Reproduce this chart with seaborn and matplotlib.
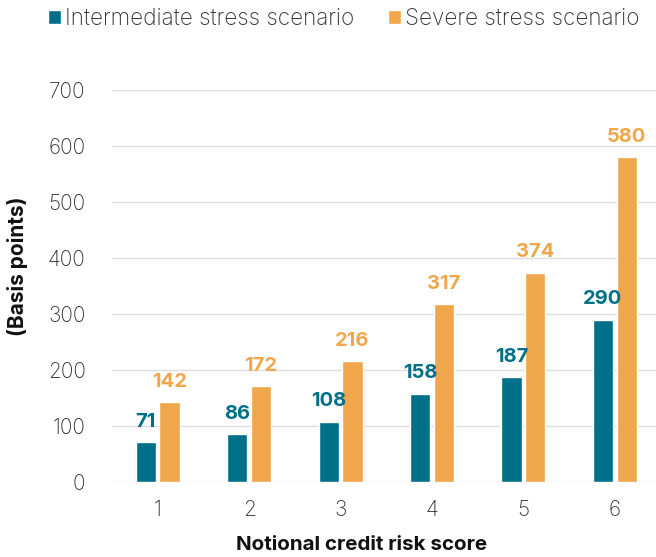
import matplotlib
matplotlib.use("Agg")
import matplotlib.pyplot as plt
import seaborn as sns
import pandas as pd

scores = ["1", "2", "3", "4", "5", "6"]
intermediate = [71, 86, 108, 158, 187, 290]
severe = [142, 172, 216, 317, 374, 580]
series_names = ["Intermediate stress scenario", "Severe stress scenario"]
y_ticks = [0, 100, 200, 300, 400, 500, 600, 700]

teal = "#006F88"
orange = "#F0A64A"

sns.set_theme(style="white")
plt.rcParams["font.family"] = ["Inter", "DejaVu Sans"]

df = pd.DataFrame({
    "score": scores * 2,
    "bp": intermediate + severe,
    "scenario": [series_names[0]] * len(scores) + [series_names[1]] * len(scores),
})

fig = plt.figure(figsize=(6.56, 5.57), dpi=100)
ax = fig.add_axes([112 / 656, 1 - 482 / 557, 544 / 656, 392 / 557])

sns.barplot(data=df, x="score", y="bp", hue="scenario",
            palette=[teal, orange], width=0.52, gap=0.15,
            saturation=1, ax=ax, legend=True)

ax.set_ylim(0, 700)
ax.set_xlim(-0.5, 5.45)
ax.set_yticks(y_ticks)
ax.grid(axis="y", color="#DDDDDD", linewidth=1)
ax.set_axisbelow(True)
for s in ax.spines.values():
    s.set_visible(False)
ax.tick_params(axis="both", length=0, labelsize=15, colors="#333333")
ax.tick_params(axis="y", pad=19)
ax.tick_params(axis="x", pad=13)
for lbl in ax.get_xticklabels() + ax.get_yticklabels():
    lbl.set_fontweight("light")

ax.set_xlabel("Notional credit risk score", fontsize=14.8, fontweight="bold",
              color="#111111")
ax.set_ylabel("(Basis points)", fontsize=15, fontweight="bold",
              color="#111111")
ax.xaxis.set_label_coords(0.458, -0.16)
ax.yaxis.set_label_coords(-0.173, 0.551)
ax.xaxis.label.set_verticalalignment("center")
ax.yaxis.label.set_verticalalignment("center")

for container, col in zip(ax.containers, [teal, orange]):
    ax.bar_label(container, fmt="%d", padding=8, color=col,
                 fontsize=14.5, fontweight="bold")

handles, labels = ax.get_legend_handles_labels()
ax.get_legend().remove()
leg = fig.legend(handles, labels, loc="center", bbox_to_anchor=(344 / 656, 1 - 19 / 557),
                 ncol=2, frameon=False, fontsize=16.2, handlelength=0.55,
                 handleheight=0.55, handletextpad=0.2, columnspacing=1.5,
                 borderpad=0)
for t in leg.get_texts():
    t.set_color("#333333")
    t.set_fontweight("light")

fig.savefig("out.png", dpi=100)
